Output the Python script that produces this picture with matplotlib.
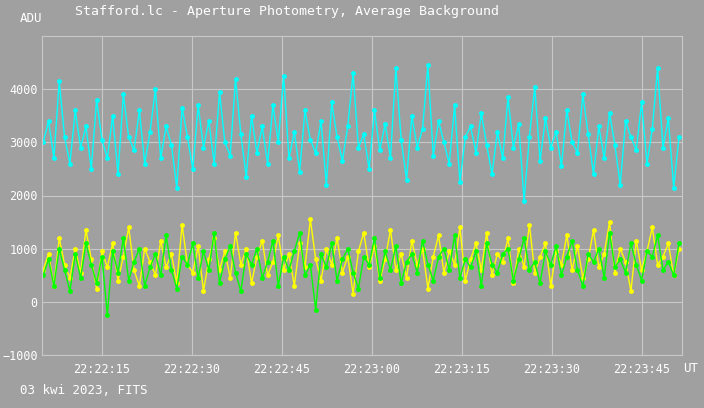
import numpy as np
import matplotlib
matplotlib.use("Agg")
import matplotlib.pyplot as plt

cyan_vals = [3000,3400,2700,4150,3100,2600,3600,2900,3300,2500,3800,3050,2700,3500,2400,3900,3100,2850,3600,2600,
3200,4000,2700,3300,2950,2150,3650,3100,2500,3700,2900,3400,2600,3950,3000,2750,4200,3150,2350,3500,
2800,3300,2600,3700,3000,4250,2700,3200,2450,3600,3050,2800,3400,2200,3750,3100,2650,3300,4300,2900,
3150,2500,3600,2850,3350,2700,4400,3050,2300,3500,2900,3250,4450,2750,3400,3000,2600,3700,2250,3100,
3300,2800,3550,2950,2400,3200,2700,3850,2900,3350,1900,3100,4050,2650,3450,2900,3200,2550,3600,3000,
2800,3900,3150,2400,3300,2700,3550,2950,2200,3400,3100,2850,3750,2600,3250,4400,2900,3450,2150,3100]
yellow_vals = [600,900,300,1200,700,450,1000,550,1350,800,250,950,650,1100,400,850,1400,600,300,1000,
750,500,1150,650,900,350,1450,700,550,1050,200,800,1200,600,950,450,1300,700,1000,350,
850,1150,500,750,1250,600,900,300,1100,650,1550,800,400,1000,700,1200,550,850,150,950,
1300,650,1050,400,800,1350,600,900,450,1150,700,1000,250,850,1250,550,950,700,1400,400,
800,1100,600,1300,500,900,750,1200,350,1000,650,1450,550,850,1100,300,950,700,1250,600,
1050,450,800,1350,650,900,1500,550,1000,750,200,1150,600,950,1400,700,850,1100,500,1000]
green_vals = [500,800,300,1000,600,200,900,450,1100,700,350,850,-250,950,550,1200,400,750,1000,300,
650,900,500,1250,600,250,850,700,1100,450,950,600,1300,350,800,1050,550,200,900,700,
1000,450,750,1150,300,850,600,950,1300,500,700,-150,900,650,1100,400,800,1000,550,250,
850,700,1200,450,950,600,1050,350,750,900,550,1150,700,400,850,1000,600,1250,450,800,
650,950,300,1100,700,550,900,1000,400,800,1200,600,750,350,950,700,1050,500,850,1150,
600,300,900,750,1000,450,1300,650,800,550,1100,700,400,950,850,1250,600,750,500,1100]
tick_secs = [10, 25, 40, 55, 70, 85, 100]
tick_labels = ["22:22:15", "22:22:30", "22:22:45", "22:23:00", "22:23:15", "22:23:30", "22:23:45"]
# seconds after 22:22:05
t0, t1 = 0.2, 106.2

bg = "#a0a0a0"
fig = plt.figure(figsize=(7.04, 4.08), dpi=100, facecolor=bg)
ax = fig.add_axes([42/704, 1-355/408, 640/704, 319/408], facecolor=bg)
mono = "DejaVu Sans Mono"

for vals, col in [(cyan_vals, "#00ffff"), (yellow_vals, "#ffff00"), (green_vals, "#00ff00")]:
    x = np.linspace(t0, t1, len(vals))
    ax.plot(x, vals, color=col, lw=1.0, marker="o", ms=2.5, mec=col)

ax.set_xlim(0, 106.7)
ax.set_ylim(-1000, 5000)
ax.set_yticks([-1000, 0, 1000, 2000, 3000, 4000])
ax.set_xticks(tick_secs)
ax.set_xticklabels(tick_labels)
ax.grid(True, color="#c8c8c8", lw=0.8)
ax.set_axisbelow(True)
for s in ax.spines.values():
    s.set_color("#c8c8c8")
ax.tick_params(colors="white", length=0, labelsize=8.5, pad=3)
ax.tick_params(axis="x", pad=6)
for lab in ax.get_xticklabels() + ax.get_yticklabels():
    lab.set_family(mono)

fig.text(75/704, 1-12/408, "Stafford.lc - Aperture Photometry, Average Background", color="white",
         family=mono, fontsize=9.5, va="center")
fig.text(20/704, 1-18/408, "ADU", color="white", family=mono, fontsize=9, va="center")
fig.text(683/704, 1-369/408, "UT", color="white", family=mono, fontsize=9, va="center")
fig.text(20/704, 1-391/408, "03 kwi 2023, FITS", color="white", family=mono, fontsize=9, va="center")

fig.savefig("out.png", dpi=100, facecolor=bg)
